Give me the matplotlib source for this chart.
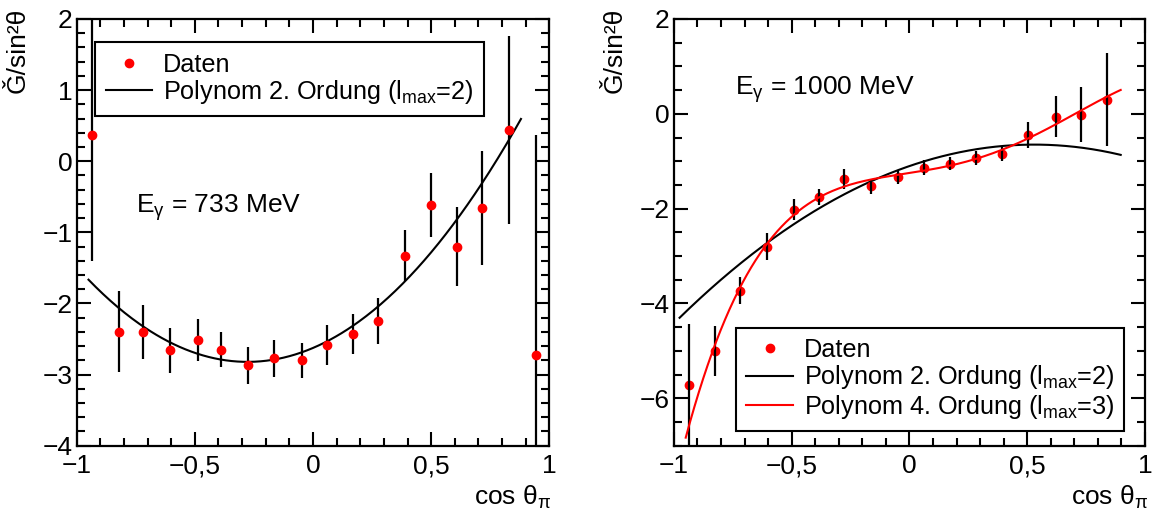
import numpy as np
import matplotlib
matplotlib.use('Agg')
import matplotlib.pyplot as plt
from matplotlib.ticker import MultipleLocator, FuncFormatter

plt.rcParams['font.family'] = ['Liberation Sans', 'DejaVu Sans']
plt.rcParams['mathtext.fontset'] = 'custom'
plt.rcParams['mathtext.rm'] = 'Liberation Sans'
plt.rcParams['mathtext.default'] = 'regular'

# 733 MeV
cos_left = [-0.936, -0.822, -0.718, -0.605, -0.488, -0.388, -0.276, -0.165, -0.048,
            0.058, 0.168, 0.277, 0.388, 0.500, 0.611, 0.717, 0.830, 0.942]
g_left = [0.37, -2.40, -2.40, -2.66, -2.515, -2.65, -2.87, -2.77, -2.80,
          -2.58, -2.43, -2.25, -1.33, -0.62, -1.20, -0.66, 0.44, -2.73]
err_left = [1.77, 0.57, 0.38, 0.32, 0.30, 0.25, 0.26, 0.26, 0.25,
            0.28, 0.28, 0.32, 0.36, 0.45, 0.56, 0.80, 1.32, 3.1]
fit_range_left = (-0.95, 0.88)

# 1000 MeV
cos_right = [-0.937, -0.827, -0.718, -0.603, -0.492, -0.386, -0.276, -0.162, -0.050,
             0.060, 0.173, 0.282, 0.392, 0.503, 0.621, 0.727, 0.840]
g_right = [-5.71, -5.01, -3.73, -2.80, -2.02, -1.76, -1.38, -1.53, -1.33,
           -1.14, -1.05, -0.93, -0.85, -0.45, -0.06, -0.02, 0.30]
err_right = [1.27, 0.53, 0.29, 0.28, 0.23, 0.17, 0.21, 0.16, 0.15,
             0.16, 0.13, 0.14, 0.15, 0.28, 0.43, 0.58, 0.98]
poly2_right = [-1.61, 1.707, -1.102]   # a x^2 + b x + c
fit_range_black = (-0.976, 0.897)
fit_range_red = (-0.95, 0.897)

FS_TICK = 19
FS_LAB = 19
FS_LEG = 18.2
FS_TXT = 19
MS = 6


def fmt(v, pos):
    return ('%g' % v).replace('.', ',').replace('-', '\u2212')


def style_axes(ax, ymin, ymax, ymaj, ymin_step):
    ax.set_xlim(-1, 1)
    ax.set_ylim(ymin, ymax)
    ax.xaxis.set_major_locator(MultipleLocator(0.5))
    ax.xaxis.set_minor_locator(MultipleLocator(0.1))
    ax.yaxis.set_major_locator(MultipleLocator(ymaj))
    ax.yaxis.set_minor_locator(MultipleLocator(ymin_step))
    ax.xaxis.set_major_formatter(FuncFormatter(fmt))
    ax.yaxis.set_major_formatter(FuncFormatter(fmt))
    ax.tick_params(which='both', direction='in', top=True, right=True, width=1.5,
                   labelsize=FS_TICK)
    ax.tick_params(which='major', length=10)
    ax.tick_params(which='minor', length=6)
    ax.tick_params(axis='x', which='major', pad=6)
    ax.tick_params(axis='y', which='major', pad=3)
    for s in ax.spines.values():
        s.set_linewidth(1.6)


def fit_curve(x, y, e, deg, rng):
    c = np.polyfit(x, y, deg, w=1.0 / np.asarray(e))
    xs = np.linspace(rng[0], rng[1], 300)
    return xs, np.polyval(c, xs)


fig = plt.figure(figsize=(11.55, 5.13), dpi=100)
ax1 = fig.add_axes([0.0664, 0.1312, 0.4092, 0.8318])
ax2 = fig.add_axes([0.5835, 0.1312, 0.4078, 0.8318])

leg_kw = dict(borderaxespad=0, fontsize=FS_LEG, fancybox=False, edgecolor='black',
              framealpha=1, handlelength=1.85, handletextpad=0.42, labelspacing=0.05,
              borderpad=0.4)

# left panel
ax1.errorbar(cos_left, g_left, yerr=err_left, fmt='none', ecolor='black', elinewidth=1.6, zorder=2)
ax1.plot(cos_left, g_left, 'o', color='red', ms=MS, zorder=3)
xs, ys = fit_curve(cos_left, g_left, err_left, 2, fit_range_left)
ax1.plot(xs, ys, color='black', lw=1.5, zorder=1)
h_dat, = ax1.plot([], [], 'o', color='red', ms=MS)
h_p2, = ax1.plot([], [], color='black', lw=1.5)
style_axes(ax1, -4, 2, 1, 0.2)
leg = ax1.legend([h_dat, h_p2], ['Daten', 'Polynom 2. Ordung (l$_{max}$=2)'],
                 loc='upper left', bbox_to_anchor=(0.0396, 0.945), **leg_kw)
leg.get_frame().set_linewidth(1.5)
ax1.text(-0.748, -0.72, 'E$_{\u03b3}$ = 733 MeV', fontsize=FS_TXT)

# right panel
ax2.plot(cos_right, g_right, 'o', color='red', ms=MS, zorder=2)
ax2.errorbar(cos_right, g_right, yerr=err_right, fmt='none', ecolor='black', elinewidth=1.6, zorder=3)
xs = np.linspace(fit_range_black[0], fit_range_black[1], 300)
ax2.plot(xs, np.polyval(poly2_right, xs), color='black', lw=1.5, zorder=1)
xs, ys = fit_curve(cos_right, g_right, err_right, 4, fit_range_red)
ax2.plot(xs, ys, color='red', lw=1.5, zorder=4)
h_dat, = ax2.plot([], [], 'o', color='red', ms=MS)
h_p2, = ax2.plot([], [], color='black', lw=1.5)
h_p4, = ax2.plot([], [], color='red', lw=1.5)
style_axes(ax2, -7, 2, 2, 0.5)
leg = ax2.legend([h_dat, h_p2, h_p4],
                 ['Daten', 'Polynom 2. Ordung (l$_{max}$=2)', 'Polynom 4. Ordung (l$_{max}$=3)'],
                 loc='lower right', bbox_to_anchor=(0.956, 0.035), **leg_kw)
leg.get_frame().set_linewidth(1.5)
ax2.text(-0.74, 0.40, 'E$_{\u03b3}$ = 1000 MeV', fontsize=FS_TXT)

# axis titles placed like the original
for xl, xr in [(18, 551.7), (615, 1148)]:
    fig.text(xl / 1155, 1 - 8 / 513, '\u01e6/sin\u00b2\u03b8', rotation=90,
             ha='center', va='top', fontsize=FS_LAB)
    fig.text(xr / 1155, 1 - 505 / 513, 'cos \u03b8$_{\u03c0}$', ha='right',
             va='baseline', fontsize=FS_LAB)

fig.savefig('out.png', dpi=100)
